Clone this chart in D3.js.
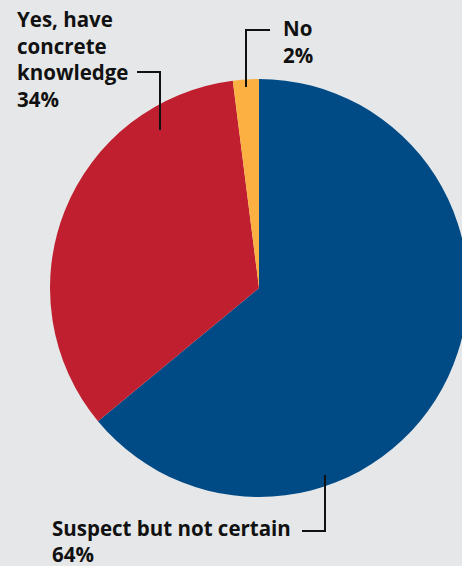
<!DOCTYPE html>
<html>
<head>
<meta charset="utf-8">
<script src="https://cdn.jsdelivr.net/npm/d3@7"></script>
<style>
  html, body { margin: 0; padding: 0; background: #e6e7e8; }
  svg { display: block; }
  text { font-family: "Open Sans", "Lato", sans-serif; font-weight: 700; fill: #111; }
</style>
</head>
<body>
<svg id="chart" width="462" height="566"></svg>
<script>
const categories = ["Suspect but not certain", "Yes, have concrete knowledge", "No"];
const values = [64, 34, 2];
const colors = ["#004a86", "#c01f2f", "#fdb042"];

const width = 462, height = 566;
const cx = 259, cy = 288, radius = 209;

const svg = d3.select("#chart");
svg.append("rect").attr("width", width).attr("height", height).attr("fill", "#e6e7e8");

const pie = d3.pie().sort(null).value(d => d.value);
const arc = d3.arc().innerRadius(0).outerRadius(radius);
const data = categories.map((c, i) => ({ name: c, value: values[i], color: colors[i] }));

const g = svg.append("g").attr("transform", `translate(${cx},${cy})`);
g.selectAll("path")
  .data(pie(data))
  .join("path")
  .attr("d", arc)
  .attr("fill", d => d.data.color);

// Leader lines
const line = d3.line();
const leaders = [
  [[137, 72], [160, 72], [160, 130]],
  [[270, 30], [246, 30], [246, 87]],
  [[302, 531], [325, 531], [325, 475]]
];
svg.selectAll("path.leader")
  .data(leaders)
  .join("path")
  .attr("class", "leader")
  .attr("d", line)
  .attr("fill", "none")
  .attr("stroke", "#111")
  .attr("stroke-width", 2);

// Labels
const labels = [
  { x: 17, y: 27, step: 26.5, lines: ["Yes, have", "concrete", "knowledge", values[1] + "%"] },
  { x: 283, y: 36, step: 26.5, lines: ["No", values[2] + "%"] },
  { x: 52, y: 536, step: 25.5, lines: ["Suspect but not certain", values[0] + "%"] }
];
labels.forEach(l => {
  const t = svg.append("text").attr("x", l.x).attr("y", l.y).style("font-size", "20.5px");
  l.lines.forEach((s, i) => {
    t.append("tspan").attr("x", l.x).attr("dy", i === 0 ? 0 : l.step).text(s);
  });
});
</script>
</body>
</html>
